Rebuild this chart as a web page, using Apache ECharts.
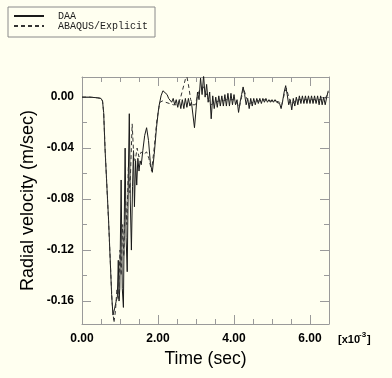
<!DOCTYPE html>
<html>
<head>
<meta charset="utf-8">
<script src="https://cdn.jsdelivr.net/npm/echarts@6/dist/echarts.min.js"></script>
<style>
  html, body { margin: 0; padding: 0; background: #fffff0; }
  #chart { width: 392px; height: 378px; }
</style>
</head>
<body>
<div id="chart"></div>
<script>
// time in units of 1e-3 sec, velocity in m/sec
var daaHead = [
    [0, 0], [0.2, 0], [0.4, -0.0005], [0.5, -0.001], [0.54, -0.003], [0.57, -0.012],
    [0.605, -0.040], [0.70, -0.097], [0.78, -0.155], [0.815, -0.171], [0.85, -0.167],
    [0.90, -0.160], [0.93, -0.157], [0.955, -0.128], [0.975, -0.160], [0.995, -0.150],
    [1.03, -0.065], [1.06, -0.150], [1.09, -0.165], [1.115, -0.090], [1.135, -0.040],
    [1.16, -0.110], [1.19, -0.137], [1.22, -0.060], [1.245, -0.013], [1.27, -0.080],
    [1.30, -0.120], [1.33, -0.070], [1.355, -0.042], [1.38, -0.086], [1.41, -0.050],
    [1.44, -0.069], [1.47, -0.048], [1.50, -0.058], [1.53, -0.050], [1.56, -0.053],
    [1.60, -0.042], [1.65, -0.030], [1.70, -0.024], [1.75, -0.034], [1.80, -0.052],
    [1.85, -0.059], [1.90, -0.045], [1.96, -0.024], [2.02, -0.008], [2.08, 0.001],
    [2.13, 0.005], [2.18, 0.004]
];
// DAA tail sampled every 0.04e-3 sec starting at 2.24e-3 sec
var daaTailStart = 2.24;
var daaTailStep = 0.04;
var daaTail = [
    0.002, -0.001, 0.000, -0.004, -0.001, -0.006, -0.002, -0.008, -0.002, -0.009,
    -0.002, -0.009, -0.001, -0.008, -0.001, -0.007, -0.004, -0.014, -0.024, -0.010,
    0.004, -0.002, 0.015, 0.002, 0.017, 0.000, 0.010, -0.004, 0.004, -0.017,
    0.001, -0.009, 0.000, -0.008, 0.001, -0.007, 0.001, -0.007, 0.002, -0.007,
    0.003, -0.007, 0.003, -0.006, 0.002, -0.006, -0.002, -0.012, -0.004, 0.002,
    0.008, 0.002, -0.006, -0.001, -0.009, -0.001, -0.007, -0.001, -0.006, -0.001,
    -0.005, -0.001, -0.005, -0.001, -0.004, -0.001, -0.004, -0.002, -0.004, -0.002,
    -0.004, -0.002, -0.004, -0.003, -0.005, -0.009, -0.003, 0.004, 0.009, 0.002,
    -0.006, -0.002, -0.010, -0.001, -0.007, 0.000, -0.006, 0.001, -0.005, 0.001,
    -0.005, 0.001, -0.005, 0.001, -0.005, 0.001, -0.005, 0.001, -0.005, 0.001,
    -0.006, 0.001, -0.006, 0.000, -0.006, 0.000, 0.005
];
var abaqus = [
    [0, 0], [0.2, 0], [0.4, -0.0005], [0.5, -0.001], [0.54, -0.003], [0.57, -0.012],
    [0.61, -0.042], [0.70, -0.098], [0.79, -0.160], [0.84, -0.177], [0.88, -0.168],
    [0.92, -0.150], [0.96, -0.158], [1.00, -0.120], [1.03, -0.140], [1.07, -0.100],
    [1.10, -0.125], [1.14, -0.075], [1.18, -0.100], [1.22, -0.055], [1.26, -0.075],
    [1.32, -0.021], [1.36, -0.045], [1.40, -0.050], [1.45, -0.040], [1.50, -0.047],
    [1.56, -0.043], [1.62, -0.045], [1.70, -0.043], [1.76, -0.048], [1.83, -0.058],
    [1.90, -0.040], [1.97, -0.018], [2.05, -0.004], [2.12, -0.003], [2.20, -0.004],
    [2.30, -0.005], [2.40, -0.006], [2.50, -0.006], [2.58, -0.002], [2.65, 0.006],
    [2.72, 0.014], [2.76, 0.016], [2.80, 0.010], [2.86, -0.002], [2.92, -0.006],
    [2.98, -0.006], [3.05, 0.002], [3.10, 0.006], [3.20, 0.008], [3.30, 0.000],
    [3.40, -0.006], [3.50, -0.004], [3.60, -0.003], [3.70, -0.003], [3.80, -0.002],
    [3.90, -0.002], [4.00, -0.002], [4.08, -0.005], [4.14, -0.008], [4.20, 0.000],
    [4.25, 0.007], [4.32, 0.000], [4.40, -0.005], [4.50, -0.004], [4.60, -0.003],
    [4.70, -0.003], [4.80, -0.002], [4.90, -0.003], [5.00, -0.003], [5.10, -0.003],
    [5.20, -0.004], [5.26, -0.006], [5.32, 0.002], [5.38, 0.007], [5.44, 0.000],
    [5.52, -0.006], [5.60, -0.003], [5.70, -0.002], [5.80, -0.002], [5.90, -0.002],
    [6.00, -0.002], [6.10, -0.002], [6.20, -0.002], [6.30, -0.002], [6.40, -0.001],
    [6.50, 0.004]
];

var xLabelValues = [0, 2, 4, 6];
var xMinorTicks = [0.5, 1, 1.5, 2.5, 3, 3.5, 4.5, 5, 5.5, 6.5];
var yLabelValues = [0, -0.04, -0.08, -0.12, -0.16];
var yMinorTicks = [-0.02, -0.06, -0.10, -0.14];
var xMin = 0, xMax = 6.5;
var yMin = -0.178, yMax = 0.0158;

var daa = daaHead.slice();
daaTail.forEach(function (v, i) {
    daa.push([+(daaTailStart + i * daaTailStep).toFixed(2), v]);
});

var boxColor = '#9a9a9a';
var labelFont = {
    color: '#000',
    fontFamily: 'Liberation Sans',
    fontWeight: 'bold',
    fontSize: 12
};

function xAx(pos, ticks, len, withLabel, withLine) {
    return {
        type: 'value', position: pos, min: xMin, max: xMax,
        splitLine: { show: false },
        axisLine: { show: withLine, onZero: false, lineStyle: { color: boxColor } },
        axisTick: { show: true, inside: true, length: len, customValues: ticks,
            lineStyle: { color: boxColor } },
        axisLabel: withLabel ? Object.assign({
            show: true, margin: 9, customValues: xLabelValues,
            formatter: function (v) { return v.toFixed(2); }
        }, labelFont) : { show: false }
    };
}
function yAx(pos, ticks, len, withLabel, withLine) {
    return {
        type: 'value', position: pos, min: yMin, max: yMax,
        splitLine: { show: false },
        axisLine: { show: withLine, onZero: false, lineStyle: { color: boxColor } },
        axisTick: { show: true, inside: true, length: len, customValues: ticks,
            lineStyle: { color: boxColor } },
        axisLabel: withLabel ? Object.assign({
            show: true, margin: 8, customValues: yLabelValues,
            formatter: function (v) { return v.toFixed(2); }
        }, labelFont) : { show: false }
    };
}

var xMain = xAx('bottom', xLabelValues, 9, true, true);
xMain.name = 'Time (sec)';
xMain.nameLocation = 'middle';
xMain.nameGap = 26;
xMain.nameMoveOverlap = false;
xMain.nameTextStyle = { fontFamily: 'Liberation Sans', fontSize: 17.5, color: '#000' };
var yMain = yAx('left', yLabelValues, 9, true, true);
yMain.name = 'Radial velocity (m/sec)';
yMain.nameLocation = 'middle';
yMain.nameGap = 45;
yMain.nameMoveOverlap = false;
yMain.nameTextStyle = { fontFamily: 'Liberation Sans', fontSize: 18, color: '#000' };

var option = {
    backgroundColor: '#fffff0',
    animation: false,
    grid: { left: 82, top: 77, width: 247, height: 247 },
    legend: {
        orient: 'vertical',
        left: 8, top: 7,
        padding: [4, 7, 6, 5],
        itemWidth: 30, itemHeight: 9, itemGap: 0,
        borderColor: '#8a8a8a', borderWidth: 1,
        itemStyle: { opacity: 0 },
        textStyle: { fontFamily: 'Liberation Mono', fontSize: 10, color: '#222',
            padding: [0, 0, 0, 9] },
        data: ['DAA', 'ABAQUS/Explicit']
    },
    xAxis: [
        xMain,
        xAx('bottom', xMinorTicks, 5, false, false),
        xAx('top', xLabelValues, 9, false, true),
        xAx('top', xMinorTicks, 5, false, false)
    ],
    yAxis: [
        yMain,
        yAx('left', yMinorTicks, 5, false, false),
        yAx('right', yLabelValues, 9, false, true),
        yAx('right', yMinorTicks, 5, false, false)
    ],
    graphic: [
        { type: 'text', left: 338, top: 334,
          style: { text: '[x10', fill: '#000', font: 'bold 11px "Liberation Sans"' } },
        { type: 'text', left: 359, top: 331,
          style: { text: '-3', fill: '#000', font: 'bold 8px "Liberation Sans"' } },
        { type: 'text', left: 367, top: 334,
          style: { text: ']', fill: '#000', font: 'bold 11px "Liberation Sans"' } }
    ],
    series: [
        {
            name: 'DAA', type: 'line', data: daa,
            symbol: 'none', clip: true,
            lineStyle: { color: '#1a1a1a', width: 1 },
            itemStyle: { color: '#1a1a1a' }
        },
        {
            name: 'ABAQUS/Explicit', type: 'line', data: abaqus,
            symbol: 'none', clip: true,
            lineStyle: { color: '#333', width: 1, type: [4, 3] },
            itemStyle: { color: '#333' }
        }
    ]
};

var myChart = echarts.init(document.getElementById('chart'));
myChart.setOption(option);
</script>
</body>
</html>
